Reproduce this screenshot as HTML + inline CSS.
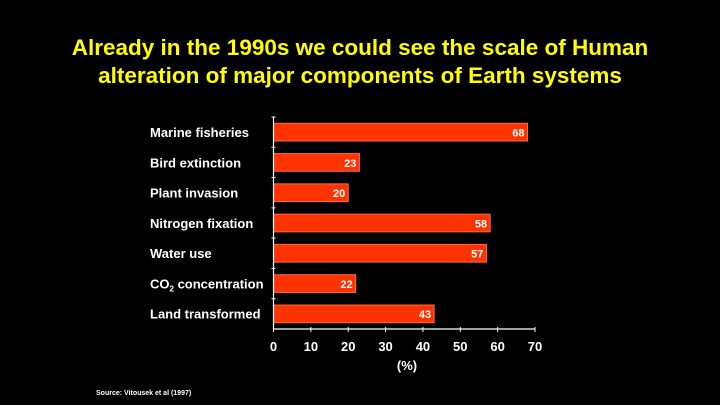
<!DOCTYPE html>
<html><head><meta charset="utf-8"><style>
body{margin:0;background:#000;width:720px;height:405px;overflow:hidden;font-family:"Liberation Sans",Arial,sans-serif}
#title{position:absolute;left:0;top:34px;width:720px;text-align:center;color:#ffff00;font-weight:bold;font-size:22.5px;line-height:28px}
#src{position:absolute;left:96px;top:390px;color:#fff;font-size:7px;font-weight:bold}
svg{position:absolute;left:0;top:0}
</style></head><body>
<div id="title">Already in the 1990s we could see the scale of Human<br>alteration of major components of Earth systems</div>
<svg id="chart" width="720" height="405"></svg>
<div id="src">Source: Vitousek et al (1997)</div>
<script>
const categories=["Marine fisheries","Bird extinction","Plant invasion","Nitrogen fixation","Water use","CO2 concentration","Land transformed"];
const values=[68,23,20,58,57,22,43];
const xTicks=[0,10,20,30,40,50,60,70];
const NS="http://www.w3.org/2000/svg";
const svg=document.getElementById('chart');
const x0=273.5,x1=535,xMax=70,yTop=117,yBot=329;
const band=(yBot-yTop)/categories.length;
const xs=v=>x0+(v/xMax)*(x1-x0);
function mk(t,a,p){const e=document.createElementNS(NS,t);for(const k in a)e.setAttribute(k,a[k]);(p||svg).appendChild(e);return e;}
categories.forEach((c,i)=>{
  const yb=yTop+band*i;
  const r=mk('rect',{x:x0,y:yb+6.3,width:xs(values[i])-x0,height:17.7,fill:'#ff3300',stroke:'#ff6a40','stroke-width':1});
  
  
  const v=mk('text',{x:xs(values[i])-3,y:yb+19.5,'text-anchor':'end',fill:'#fff','font-size':11,'font-weight':'bold'});
  v.textContent=values[i];
  
  
  const l=mk('text',{x:150,y:yb+20,fill:'#fff','font-size':13,'font-weight':'bold'});
  if(c.startsWith('CO2')){l.textContent='CO';const s=mk('tspan',{'font-size':8,dy:3},l);s.textContent='2';const t=mk('tspan',{dy:-3},l);t.textContent=' concentration';}
  else l.textContent=c;
  
  
  mk('line',{x1:x0-2,x2:x0+2,y1:yb,y2:yb,stroke:'#fff','stroke-width':1});
});
mk('line',{x1:x0,x2:x0,y1:yTop,y2:yBot,stroke:'#fff','stroke-width':1.2});
mk('line',{x1:x0,x2:x1,y1:yBot,y2:yBot,stroke:'#fff','stroke-width':1.2});
xTicks.forEach(t=>{
  mk('line',{x1:xs(t),x2:xs(t),y1:yBot-2,y2:yBot+3,stroke:'#fff','stroke-width':1});
  const tl=mk('text',{x:xs(t),y:yBot+22,'text-anchor':'middle',fill:'#fff','font-size':13,'font-weight':'bold'});
  tl.textContent=t;
  
  
});
const xt=mk('text',{x:407,y:370,'text-anchor':'middle',fill:'#fff','font-size':13,'font-weight':'bold'});
xt.textContent='(%)';


</script>
</body></html>
